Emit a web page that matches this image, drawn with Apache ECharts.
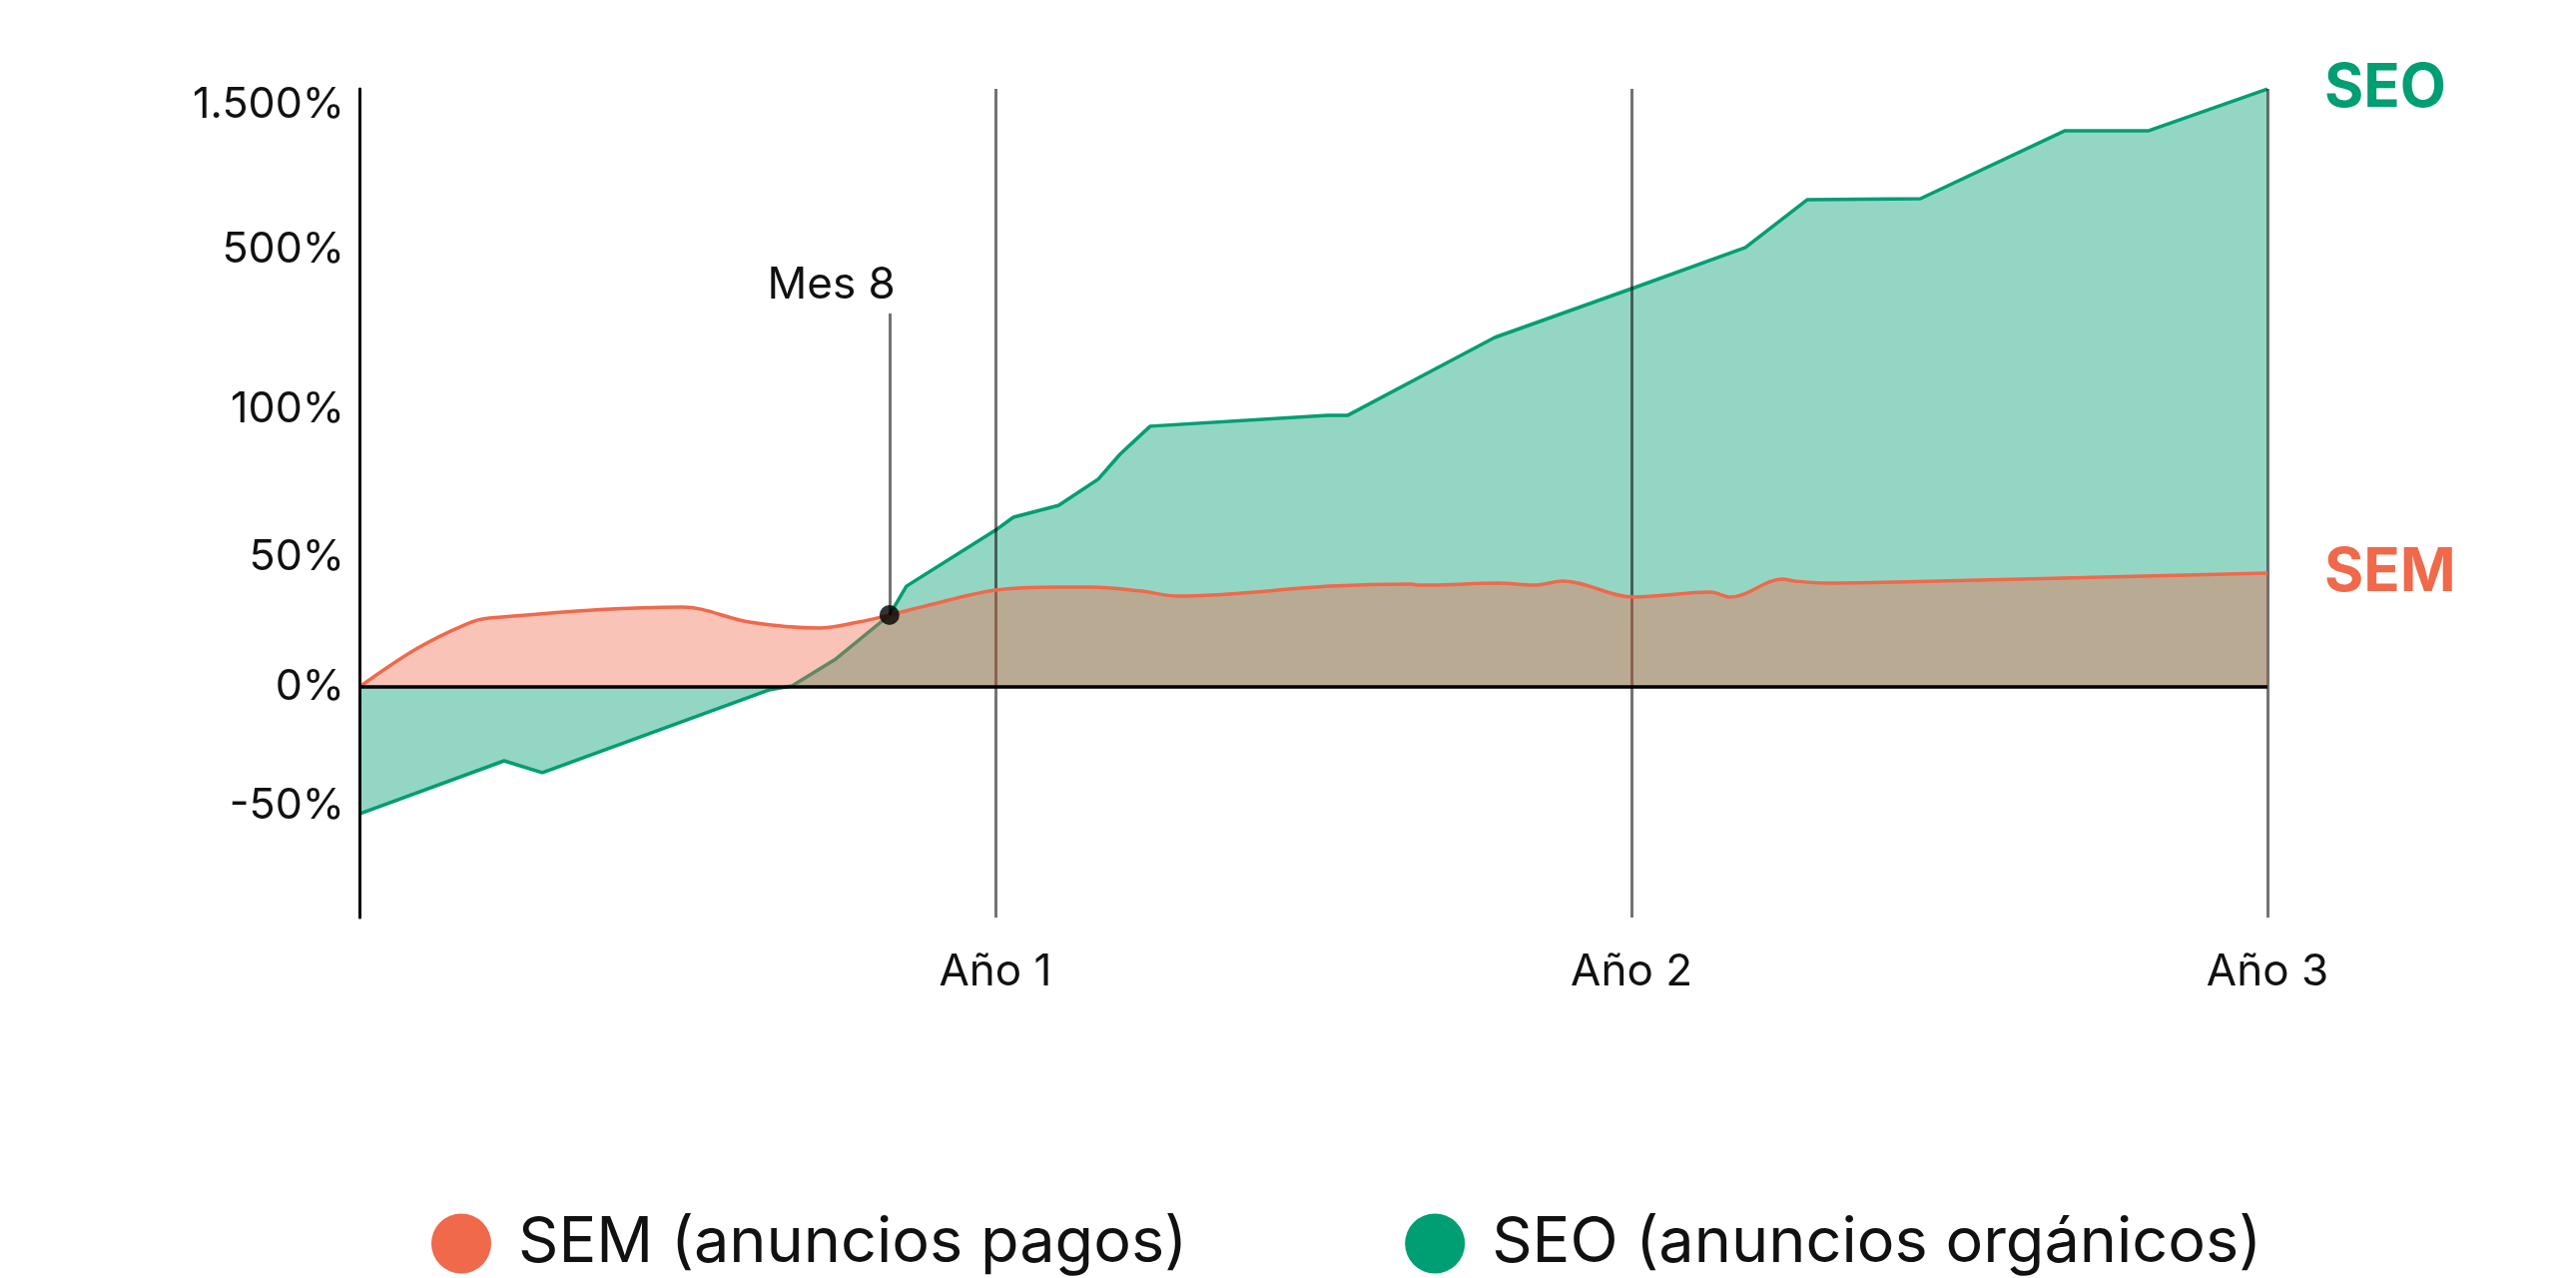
<!DOCTYPE html>
<html>
<head>
<meta charset="utf-8">
<script src="https://cdn.jsdelivr.net/npm/echarts@6/dist/echarts.min.js"></script>
<style>
  html, body { margin: 0; background: #fff; }
  #chart { width: 2580px; height: 1280px; }
</style>
</head>
<body>
<div id="chart"></div>
<script>
// x axis: months since start, labelled per year
const xTickLabels = ['', 'Año 1', 'Año 2', 'Año 3']

// y axis ticks (the chart uses an uneven scale between these ticks)
const yTickValues = [-50, 0, 50, 100, 500, 1500]
const yTickLabels = ['-50%', '0%', '50%', '100%', '500%', '1.500%']

// SEM (paid)
const semMonths = [0, 1.07, 2.02, 2.45, 6.09, 7.35, 8.67, 9.42, 10.0, 10.68, 12.0, 13.19, 13.81, 14.75, 15.45,
  18.33, 19.84, 19.97, 20.2, 21.48, 22.17, 22.7, 24.04, 25.49, 25.87, 26.85, 27.07, 27.69, 29.01, 36]
const semValues = [0, 14.6, 24.2, 26.5, 30.8, 25.0, 22.7, 25.0, 27.7, 31.2, 37.3, 38.5, 38.5, 36.9, 35.0,
  38.8, 39.6, 39.2, 39.2, 40.0, 39.2, 40.8, 34.6, 36.5, 34.6, 41.5, 40.8, 40.0, 40.4, 43.8]

// SEO (organic)
const seoMonths = [0, 2.73, 3.45, 7.72, 8.16, 8.99, 10.0, 10.32, 12.0, 12.34, 13.19, 13.94, 14.35, 14.92,
  18.27, 18.65, 20.21, 21.42, 24.06, 26.15, 27.32, 29.45, 32.18, 33.76, 36]
const seoValues = [-53.4, -31.1, -36.1, -1.3, 0.4, 10.8, 27.7, 38.8, 59.1, 63.5, 67.5, 76.4, 84.8, 94.3,
  98, 98, 195, 280, 405, 514, 845, 852, 1321, 1321, 1610]

// break-even marker
const markMonth = 10.0
const markValue = 27.7
const markLabel = 'Mes 8'
const markTopValue = 340

// axis layout: where each tick sits on the (uneven) axis
const yStops = [-119, 0, 130, 278, 438, 583]

const toScale = v => {
  let i = 0
  while (i < yTickValues.length - 2 && v > yTickValues[i + 1]) i++
  const v0 = yTickValues[i], v1 = yTickValues[i + 1]
  const s0 = yStops[i], s1 = yStops[i + 1]
  return s0 + (v - v0) * (s1 - s0) / (v1 - v0)
}

const zip = (xs, ys) => xs.map((x, i) => [x, toScale(ys[i])])

const FONT = 'Inter'
const SEM_COLOR = '#F0694A'
const SEO_COLOR = '#009E73'
const GRID_LINE = 'rgba(0,0,0,0.55)'

const chart = echarts.init(document.getElementById('chart'))
chart.setOption({
  animation: false,
  textStyle: { fontFamily: FONT },
  grid: { left: 360, right: 309, top: 89, bottom: 361 },
  legend: {
    data: ['SEM (anuncios pagos)', 'SEO (anuncios orgánicos)'],
    left: 427,
    top: 1209,
    icon: 'circle',
    itemWidth: 60,
    itemHeight: 60,
    itemGap: 218,
    selectedMode: false,
    textStyle: { fontFamily: FONT, fontSize: 63, color: '#111', padding: [0, 0, 0, 22] }
  },
  xAxis: {
    type: 'value',
    min: 0,
    max: 36,
    interval: 12,
    z: 3,
    axisLine: { show: false, onZero: false },
    axisTick: { show: false },
    splitLine: { show: true, lineStyle: { color: GRID_LINE, width: 3 } },
    axisLabel: {
      margin: 33,
      fontFamily: FONT,
      fontSize: 44,
      color: '#111',
      formatter: v => xTickLabels[Math.round(v / 12)]
    }
  },
  yAxis: {
    type: 'value',
    min: -231,
    max: 599,
    z: 4,
    axisLine: { show: true, lineStyle: { color: '#000', width: 3 } },
    axisTick: { show: false },
    splitLine: { show: false },
    axisLabel: {
      customValues: yStops,
      margin: 15,
      fontFamily: FONT,
      fontSize: 43,
      color: '#111',
      formatter: v => yTickLabels[yStops.indexOf(v)]
    }
  },
  series: [
    {
      name: 'SEO (anuncios orgánicos)',
      type: 'line',
      z: 2,
      data: zip(seoMonths, seoValues),
      showSymbol: false,
      itemStyle: { color: SEO_COLOR },
      lineStyle: { color: SEO_COLOR, width: 3.5 },
      areaStyle: { color: 'rgba(0,158,115,0.42)', opacity: 1 },
      endLabel: {
        show: true,
        formatter: 'SEO',
        color: SEO_COLOR,
        fontFamily: FONT,
        fontSize: 60,
        fontWeight: 'bold',
        distance: 57
      }
    },
    {
      name: 'SEM (anuncios pagos)',
      type: 'line',
      z: 3,
      smooth: 0.35,
      data: zip(semMonths, semValues),
      showSymbol: false,
      itemStyle: { color: SEM_COLOR },
      lineStyle: { color: SEM_COLOR, width: 3.5 },
      areaStyle: { color: 'rgba(240,105,74,0.4)', opacity: 1 },
      endLabel: {
        show: true,
        formatter: 'SEM',
        color: SEM_COLOR,
        fontFamily: FONT,
        fontSize: 60,
        fontWeight: 'bold',
        distance: 57
      }
    },
    {
      name: 'marker',
      type: 'scatter',
      z: 6,
      data: [[markMonth, toScale(markValue)]],
      symbolSize: 20,
      itemStyle: { color: '#000' },
      silent: true,
      markLine: {
        silent: true,
        symbol: 'none',
        data: [
          {
            yAxis: 0,
            lineStyle: { color: '#000', width: 3.5, type: 'solid' },
            label: { show: false }
          },
          [
            { coord: [markMonth, toScale(markValue)] },
            {
              coord: [markMonth, toScale(markTopValue)],
              label: {
                show: true,
                position: 'end',
                formatter: markLabel,
                fontFamily: FONT,
                fontSize: 44,
                color: '#111',
                align: 'right',
                distance: 6,
                padding: [0, -6, 0, 0]
              }
            }
          ]
        ],
        lineStyle: { color: GRID_LINE, width: 3, type: 'solid' }
      }
    }
  ]
})
</script>
</body>
</html>
